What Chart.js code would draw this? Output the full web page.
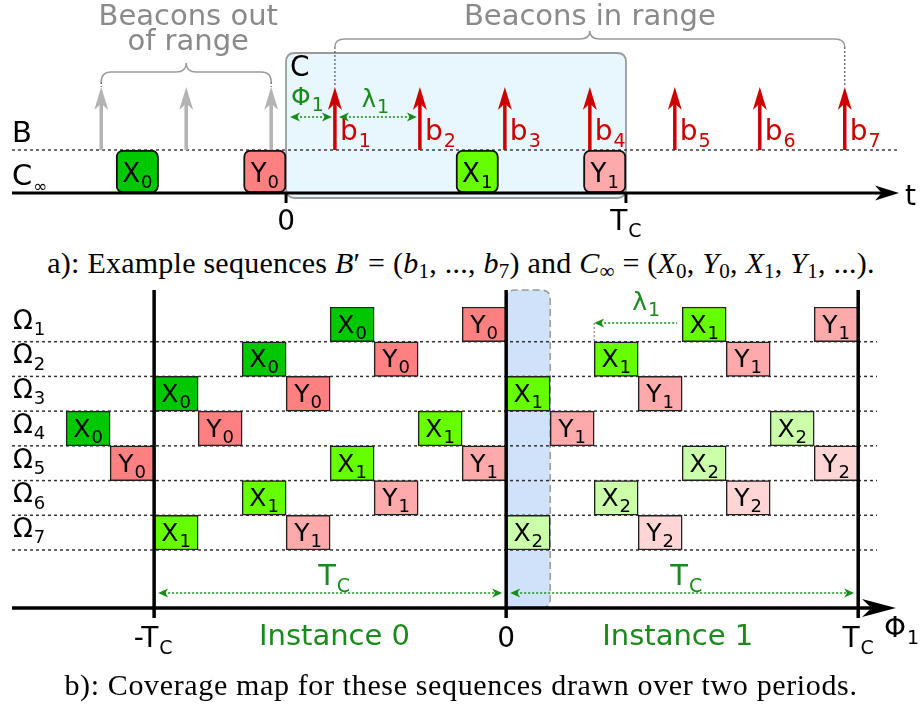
<!DOCTYPE html>
<html>
<head>
<meta charset="utf-8">
<script src="https://cdn.jsdelivr.net/npm/chart.js@4.4.0/dist/chart.umd.min.js"></script>
<style>
  body { margin: 0; background: #fff; width: 922px; height: 708px; overflow: hidden; position: relative; }
  canvas { position: absolute; left: 0; }
  .cap { position: absolute; left: 0; width: 922px; text-align: center; font-family: "Liberation Serif", serif;
         font-size: 30px; line-height: 30px; white-space: nowrap; color: #000; }
  .cap span { display: inline-block; }
  .cap sub { font-size: 0.7em; vertical-align: -0.25em; line-height: 0; }
</style>
</head>
<body>
<canvas id="seq" width="922" height="246" style="top:0"></canvas>
<div class="cap" id="capA" style="top:248px"><span>a): Example sequences <i>B</i>′ = (<i>b</i><sub>1</sub>, ..., <i>b</i><sub>7</sub>) and <i>C</i><sub>∞</sub> = (<i>X</i><sub>0</sub>, <i>Y</i><sub>0</sub>, <i>X</i><sub>1</sub>, <i>Y</i><sub>1</sub>, ...).</span></div>
<canvas id="cov" width="922" height="390" style="top:280px"></canvas>
<div class="cap" id="capB" style="top:670px"><span>b): Coverage map for these sequences drawn over two periods.</span></div>

<script>
// ======= DADOS =======
const TC = 8;      // periodo, em larguras de janela
const janela = 1;  // largura de uma janela X / Y

// a) sequencias B' e C∞
const topRows = ["B", "C∞"];
const beaconsOut = [-4.35, -2.35, -0.35];
const beaconsIn = [1.15, 3.15, 5.15, 7.15, 9.15, 11.15, 13.15];
const seqNames = ["X0", "Y0", "X1", "Y1"];
const seqStarts = [-4, -1, 4, 7];

// b) mapa de cobertura (inicio de cada janela por linha Ω)
const rowLabels = ["Ω1", "Ω2", "Ω3", "Ω4", "Ω5", "Ω6", "Ω7"];
const seriesNames = ["X0", "Y0", "X1", "Y1", "X2", "Y2"];
const startX0 = [-4, -6, -8, -10, null, null, null];
const startY0 = [-1, -3, -5, -7, -9, null, null];
const startX1 = [4, 2, 0, -2, -4, -6, -8];
const startY1 = [7, 5, 3, 1, -1, -3, -5];
const startX2 = [null, null, null, 6, 4, 2, 0];
const startY2 = [null, null, null, null, 7, 5, 3];
const tickValues = [-TC, 0, TC];
const tickBase = ["-T", "0", "T"];
const tickSub = ["C", "", "C"];
const instanceNames = ["Instance 0", "Instance 1"];
const instanceCenters = [-3.9, 3.9];

// ======= ESTILO =======
const fills = { X0: "#00c800", Y0: "#ff8080", X1: "#66ff00", Y1: "#ffaaaa", X2: "#ccffaa", Y2: "#ffd5d5" };
const GREEN = "#1a8a1a";
const RED = "#cc0000";
const GRAY = "#8a8a8a";
const FONT = "'DejaVu Sans', sans-serif";

// ======= FUNCOES COMUNS =======
function line(ctx, x1, y1, x2, y2) {
  ctx.beginPath();
  ctx.moveTo(x1, y1);
  ctx.lineTo(x2, y2);
  ctx.stroke();
}

function subText(ctx, base, sub, x, y, size, subSize, align, color) {
  ctx.fillStyle = color || "#000";
  ctx.textAlign = "left";
  ctx.textBaseline = "alphabetic";
  ctx.font = size + "px " + FONT;
  const wb = ctx.measureText(base).width;
  ctx.font = subSize + "px " + FONT;
  const ws = sub ? ctx.measureText(sub).width + 1 : 0;
  let x0 = x;
  if (align === "center") x0 = x - (wb + ws) / 2;
  if (align === "right") x0 = x - wb - ws;
  ctx.font = size + "px " + FONT;
  ctx.fillText(base, x0, y);
  if (sub) {
    ctx.font = subSize + "px " + FONT;
    ctx.fillText(sub, x0 + wb + 1, y + size * 0.24);
  }
}

function arrowHead(ctx, x, y, ang, len, half, color) {
  ctx.save();
  ctx.translate(x, y);
  ctx.rotate(ang);
  ctx.beginPath();
  ctx.moveTo(0, 0);
  ctx.lineTo(-len, -half);
  ctx.lineTo(-len * 0.72, 0);
  ctx.lineTo(-len, half);
  ctx.closePath();
  ctx.fillStyle = color;
  ctx.fill();
  ctx.restore();
}

// seta pontilhada: cabeca na esquerda (headA) e/ou na direita (headB)
function dotArrow(ctx, xa, xb, y, headA, headB, color) {
  ctx.save();
  ctx.strokeStyle = color;
  ctx.lineWidth = 1.6;
  ctx.setLineDash([2, 2]);
  line(ctx, xa + (headA ? 6 : 0), y, xb - (headB ? 6 : 0), y);
  ctx.restore();
  if (headA) arrowHead(ctx, xa, y, Math.PI, 10, 4.5, color);
  if (headB) arrowHead(ctx, xb, y, 0, 10, 4.5, color);
}

function brace(ctx, x1, x2, yEnd, yLine, yTip) {
  const m = (x1 + x2) / 2;
  const r = 10;
  ctx.beginPath();
  ctx.moveTo(x1, yEnd);
  ctx.quadraticCurveTo(x1, yLine, x1 + r, yLine);
  ctx.lineTo(m - r, yLine);
  ctx.quadraticCurveTo(m, yLine, m, yTip);
  ctx.quadraticCurveTo(m, yLine, m + r, yLine);
  ctx.lineTo(x2 - r, yLine);
  ctx.quadraticCurveTo(x2, yLine, x2, yEnd);
  ctx.stroke();
}

function roundBox(ctx, x, y, w, h, r) {
  ctx.beginPath();
  ctx.moveTo(x + r, y);
  ctx.lineTo(x + w - r, y);
  ctx.quadraticCurveTo(x + w, y, x + w, y + r);
  ctx.lineTo(x + w, y + h - r);
  ctx.quadraticCurveTo(x + w, y + h, x + w - r, y + h);
  ctx.lineTo(x + r, y + h);
  ctx.quadraticCurveTo(x, y + h, x, y + h - r);
  ctx.lineTo(x, y + r);
  ctx.quadraticCurveTo(x, y, x + r, y);
  ctx.closePath();
}

function beacon(ctx, x, yBase, yTip, color) {
  ctx.save();
  ctx.strokeStyle = color;
  ctx.lineWidth = 3.5;
  line(ctx, x, yBase, x, yTip + 14);
  ctx.restore();
  arrowHead(ctx, x, yTip, -Math.PI / 2, 23, 7, color);
}

function boxLabels(chart, size, subSize, lift) {
  const ctx = chart.ctx;
  chart.data.datasets.forEach((ds, i) => {
    chart.getDatasetMeta(i).data.forEach((el, j) => {
      if (ds.data[j] == null) return;
      const p = el.getProps(["x", "base", "y", "height"], true);
      subText(ctx, ds.label[0], ds.label.slice(1), (p.x + p.base) / 2, p.y + p.height / 2 - lift, size, subSize, "center");
    });
  });
}

const chartOpts = (xmin, xmax, pad) => ({
  indexAxis: "y",
  responsive: false,
  animation: false,
  layout: { padding: pad },
  plugins: { legend: { display: false }, tooltip: { enabled: false } },
  scales: {
    x: { type: "linear", min: xmin, max: xmax, display: false },
    y: { type: "category", display: false },
  },
});

// ======= a) SEQUENCIAS =======
const seqPlugin = {
  id: "seqDecor",
  beforeDatasetsDraw(chart) {
    const { ctx, chartArea: a, scales: { x } } = chart;
    const yB = (a.top + a.bottom) / 2;
    const yTip = yB - 63;

    // caixa C (0 .. TC)
    ctx.save();
    roundBox(ctx, x.getPixelForValue(0), a.top - 54, x.getPixelForValue(TC) - x.getPixelForValue(0), a.bottom - a.top + 59, 9);
    ctx.fillStyle = "#e8f6fd";
    ctx.fill();
    ctx.strokeStyle = "#9a9a9a";
    ctx.lineWidth = 1.8;
    ctx.stroke();

    // linha B
    ctx.setLineDash([3, 3]);
    ctx.lineWidth = 1.3;
    ctx.strokeStyle = "#222";
    line(ctx, a.left, yB, a.right, yB);
    ctx.restore();

    beaconsOut.forEach((b) => beacon(ctx, x.getPixelForValue(b), yB, yTip, "#b3b3b3"));
    beaconsIn.forEach((b) => beacon(ctx, x.getPixelForValue(b), yB, yTip, RED));
  },
  afterDatasetsDraw(chart) {
    const { ctx, chartArea: a, scales: { x } } = chart;
    const yB = (a.top + a.bottom) / 2;
    const yAxis = a.bottom;
    const yTip = yB - 63;

    boxLabels(chart, 26, 18, 11);

    // eixo t
    ctx.save();
    ctx.strokeStyle = "#000";
    ctx.lineWidth = 3;
    line(ctx, a.left, yAxis, 884, yAxis);
    arrowHead(ctx, 899, yAxis, 0, 24, 7.5, "#000");
    [0, TC].forEach((v) => line(ctx, x.getPixelForValue(v), yAxis, x.getPixelForValue(v), yAxis + 10));
    ctx.restore();
    subText(ctx, "0", "", x.getPixelForValue(0), yAxis + 37, 28, 18, "center");
    subText(ctx, "T", "C", x.getPixelForValue(TC), yAxis + 37, 28, 19, "center");
    subText(ctx, "t", "", 905, yAxis + 12, 28, 18, "left");

    // rotulos das linhas
    subText(ctx, topRows[0], "", 12, yB - 8, 29, 18, "left");
    subText(ctx, topRows[1][0], topRows[1].slice(1), 12, yAxis - 8, 29, 17, "left");
    subText(ctx, "C", "", x.getPixelForValue(0) + 4, a.top - 31, 28, 18, "left");

    // rotulos b1..b7
    beaconsIn.forEach((b, i) => subText(ctx, "b", String(i + 1), x.getPixelForValue(b) + 5, yB - 10, 28, 19, "left", RED));

    // Φ1 e λ1
    const x0 = x.getPixelForValue(0);
    const b1 = x.getPixelForValue(beaconsIn[0]);
    const b2 = x.getPixelForValue(beaconsIn[1]);
    dotArrow(ctx, x0 + 4, b1 - 3, yB - 33, true, true, GREEN);
    dotArrow(ctx, b1 + 4, b2 - 3, yB - 33, true, true, GREEN);
    subText(ctx, "Φ", "1", x0 + 5, yB - 45, 25, 19, "left", GREEN);
    subText(ctx, "λ", "1", (b1 + b2) / 2 - 2, yB - 43, 24, 19, "center", GREEN);

    // chaves
    ctx.save();
    ctx.strokeStyle = "#9a9a9a";
    ctx.lineWidth = 1.5;
    const o1 = x.getPixelForValue(beaconsOut[0]);
    const o2 = x.getPixelForValue(beaconsOut[beaconsOut.length - 1]);
    const i1 = b1;
    const i2 = x.getPixelForValue(beaconsIn[beaconsIn.length - 1]);
    brace(ctx, o1, o2, yTip - 5, yTip - 15, yTip - 24);
    brace(ctx, i1, i2, yTip - 40, yTip - 48, yTip - 56);
    ctx.setLineDash([2, 2]);
    ctx.strokeStyle = "#555";
    ctx.lineWidth = 1.2;
    [o1, o2].forEach((v) => line(ctx, v, yTip - 5, v, yTip));
    [i1, i2].forEach((v) => line(ctx, v, yTip - 40, v, yTip));
    ctx.restore();

    ctx.fillStyle = GRAY;
    ctx.font = "29px " + FONT;
    ctx.textAlign = "center";
    ctx.fillText("Beacons out", (o1 + o2) / 2 + 2, 25);
    ctx.fillText("of range", (o1 + o2) / 2 + 2, 50);
    ctx.fillText("Beacons in range", (i1 + i2) / 2, 25);
  },
};

new Chart(document.getElementById("seq"), {
  type: "bar",
  data: {
    labels: topRows,
    datasets: seqNames.map((n, i) => ({
      label: n,
      data: [null, [seqStarts[i], seqStarts[i] + janela]],
      backgroundColor: fills[n],
      borderColor: "#111",
      borderWidth: 2,
      borderRadius: 7,
      borderSkipped: false,
      barPercentage: 1,
      categoryPercentage: 1,
      grouped: false,
    })),
  },
  options: chartOpts(-6.45, 14.45, { left: 12, right: 22, top: 107, bottom: 53 }),
  plugins: [seqPlugin],
});

// ======= b) MAPA DE COBERTURA =======
const covPlugin = {
  id: "covDecor",
  beforeDatasetsDraw(chart) {
    const { ctx, chartArea: a, scales: { x } } = chart;
    const rowH = (a.bottom - a.top) / rowLabels.length;
    const yAxis = a.bottom + 58;

    // faixa azul (0 .. janela)
    const xl = x.getPixelForValue(0);
    const xr = x.getPixelForValue(janela);
    const yTop = a.top - 17;
    const r = 9;
    ctx.save();
    ctx.beginPath();
    ctx.moveTo(xl, yAxis);
    ctx.lineTo(xl, yTop + r);
    ctx.quadraticCurveTo(xl, yTop, xl + r, yTop);
    ctx.lineTo(xr - r, yTop);
    ctx.quadraticCurveTo(xr, yTop, xr, yTop + r);
    ctx.lineTo(xr, yAxis - r);
    ctx.quadraticCurveTo(xr, yAxis, xr - r, yAxis);
    ctx.closePath();
    ctx.fillStyle = "#cfe2fa";
    ctx.fill();
    ctx.setLineDash([7, 4]);
    ctx.strokeStyle = "#999";
    ctx.lineWidth = 1.5;
    ctx.stroke();

    // linhas pontilhadas entre Ω
    ctx.setLineDash([3, 3]);
    ctx.strokeStyle = "#333";
    ctx.lineWidth = 1.5;
    for (let i = 1; i <= rowLabels.length; i++) {
      line(ctx, a.left, a.top + i * rowH, 877, a.top + i * rowH);
    }
    ctx.restore();
  },
  afterDatasetsDraw(chart) {
    const { ctx, chartArea: a, scales: { x } } = chart;
    const rowH = (a.bottom - a.top) / rowLabels.length;
    const yAxis = a.bottom + 58;

    boxLabels(chart, 25, 18, 9);

    // linhas verticais -TC, 0, TC
    ctx.save();
    ctx.strokeStyle = "#000";
    ctx.lineWidth = 3.5;
    tickValues.forEach((v) => line(ctx, x.getPixelForValue(v), a.top - 17, x.getPixelForValue(v), yAxis + 10));
    // eixo Φ1
    line(ctx, a.left, yAxis, 872, yAxis);
    ctx.restore();
    arrowHead(ctx, 896, yAxis, 0, 34, 9, "#000");
    subText(ctx, "Φ", "1", 884, yAxis + 29, 28, 19, "left");
    tickValues.forEach((v, i) => subText(ctx, tickBase[i], tickSub[i], x.getPixelForValue(v) + (i === 0 ? -1 : 0), yAxis + 39, 28, 19, "center"));

    // TC (setas) e instancias
    const yArr = yAxis - 15;
    for (let i = 0; i < 2; i++) {
      const xa = x.getPixelForValue(tickValues[i]);
      const xb = x.getPixelForValue(tickValues[i + 1]);
      dotArrow(ctx, xa + 4, xb - 4, yArr, true, true, GREEN);
      subText(ctx, "T", "C", (xa + xb) / 2 + 4, yArr - 8, 29, 19, "center", GREEN);
      ctx.fillStyle = GREEN;
      ctx.font = "29px " + FONT;
      ctx.textAlign = "center";
      ctx.fillText(instanceNames[i], x.getPixelForValue(instanceCenters[i]), yAxis + 37);
    }

    // λ1 (deslocamento entre Ω1 e Ω2)
    const yL = a.top + 16;
    const lx1 = x.getPixelForValue(startX1[1]);
    const lx2 = x.getPixelForValue(startX1[0]);
    dotArrow(ctx, lx1, lx2 - 5, yL, true, false, GREEN);
    ctx.save();
    ctx.setLineDash([2, 2]);
    ctx.strokeStyle = "#888";
    ctx.lineWidth = 1.2;
    line(ctx, lx1, yL, lx1, a.top + rowH);
    ctx.restore();
    subText(ctx, "λ", "1", (lx1 + lx2) / 2 + 8, yL - 13, 25, 19, "center", GREEN);

    // rotulos Ω
    rowLabels.forEach((lab, i) => subText(ctx, lab[0], lab.slice(1), 13, a.top + (i + 1) * rowH - 13, 26, 18, "left"));
  },
};

const startsBySeries = [startX0, startY0, startX1, startY1, startX2, startY2];

new Chart(document.getElementById("cov"), {
  type: "bar",
  data: {
    labels: rowLabels,
    datasets: seriesNames.map((n, i) => ({
      label: n,
      data: startsBySeries[i].map((s) => (s === null ? null : [s, s + janela])),
      backgroundColor: fills[n],
      borderColor: "#222",
      borderWidth: 1.5,
      borderSkipped: false,
      barPercentage: 1,
      categoryPercentage: 1,
      grouped: false,
    })),
  },
  options: chartOpts(-11.23, 8.95, { left: 12, right: 22, top: 27, bottom: 120 }),
  plugins: [covPlugin],
});

// ======= LEGENDAS (texto) =======
// ajusta o espacamento entre letras ate a largura da figura original
function ajustarLargura(id, largura) {
  const s = document.querySelector("#" + id + " span");
  const n = s.textContent.length;
  const w = s.getBoundingClientRect().width;
  s.style.letterSpacing = ((largura - w) / n).toFixed(2) + "px";
}
ajustarLargura("capA", 827);
ajustarLargura("capB", 793);
</script>
</body>
</html>
